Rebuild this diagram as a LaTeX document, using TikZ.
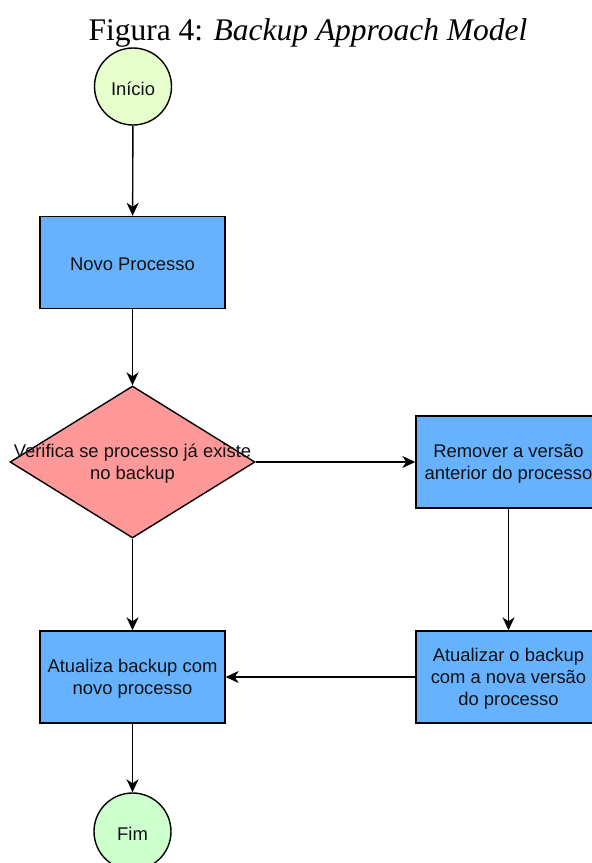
\documentclass[tikz,border=0pt]{standalone}
\usepackage{fontspec}
\setmainfont{Liberation Serif}
\newfontfamily\labelfont{Liberation Sans}
\usetikzlibrary{shapes.geometric,arrows.meta}
\definecolor{startfill}{HTML}{E6FFCC}
\definecolor{endfill}{HTML}{CCFFCC}
\definecolor{boxfill}{HTML}{66B2FF}
\definecolor{decfill}{HTML}{FF9999}
\definecolor{inkcol}{HTML}{111111}
\tikzset{
  base/.style={draw=black, line width=1.4pt, inner sep=0pt, align=center,
    text=inkcol, font=\labelfont\fontsize{18.4}{22}\selectfont},
  terminal/.style={base, circle, minimum size=77pt},
  stepbox/.style={base, rectangle, minimum width=185pt, minimum height=92pt, fill=boxfill},
  decision/.style={base, diamond, aspect=1.61, minimum width=245pt, minimum height=152pt, fill=decfill},
  label/.style={base, draw=none, fill=none, yshift=-2pt},
  flow/.style={line width=1.4pt, -{Stealth[length=13pt,width=12pt,inset=4pt]}}
}
\begin{document}
\begin{tikzpicture}[x=1pt,y=-1pt]
\useasboundingbox (0,0) rectangle (592,863);
\clip (0,0) rectangle (592,863);
\node[font=\fontsize{31.5}{36}\selectfont, anchor=base] (title) at (308,40) {Figura 4: \textit{Backup Approach Model}};
% shapes
\node[terminal, fill=startfill] (inicio) at (133,86.5) {};
\node[stepbox] (novo) at (132.5,262.5) {};
\node[decision] (verifica) at (132.5,462) {};
\node[stepbox] (remover) at (508.5,462) {};
\node[stepbox] (atualizar) at (508.5,677) {};
\node[stepbox] (atualiza) at (132.5,677) {};
\node[terminal, fill=endfill] (fim) at (132.5,831.5) {};
% labels
\node[label] (inicioT) at (inicio) {Início};
\node[label] (novoT) at (novo) {Novo Processo};
\node[label] (verificaT) at (verifica) {Verifica se processo já existe\\no backup};
\node[label] (removerT) at (remover) {Remover a versão\\anterior do processo};
\node[label] (atualizarT) at (atualizar) {Atualizar o backup\\com a nova versão\\do processo};
\node[label] (atualizaT) at (atualiza) {Atualiza backup com\\novo processo};
\node[label] (fimT) at (fim) {Fim};
% connectors
\draw[flow] (inicio) -- (novo);
\draw[flow] (novo) -- (verifica);
\draw[flow] (verifica.east) -- (remover.west);
\draw[flow] (verifica.south) -- (atualiza.north);
\draw[flow] (remover) -- (atualizar);
\draw[flow] (atualizar.west) -- (atualiza.east);
\draw[flow] (atualiza) -- (fim);
\end{tikzpicture}
\end{document}
